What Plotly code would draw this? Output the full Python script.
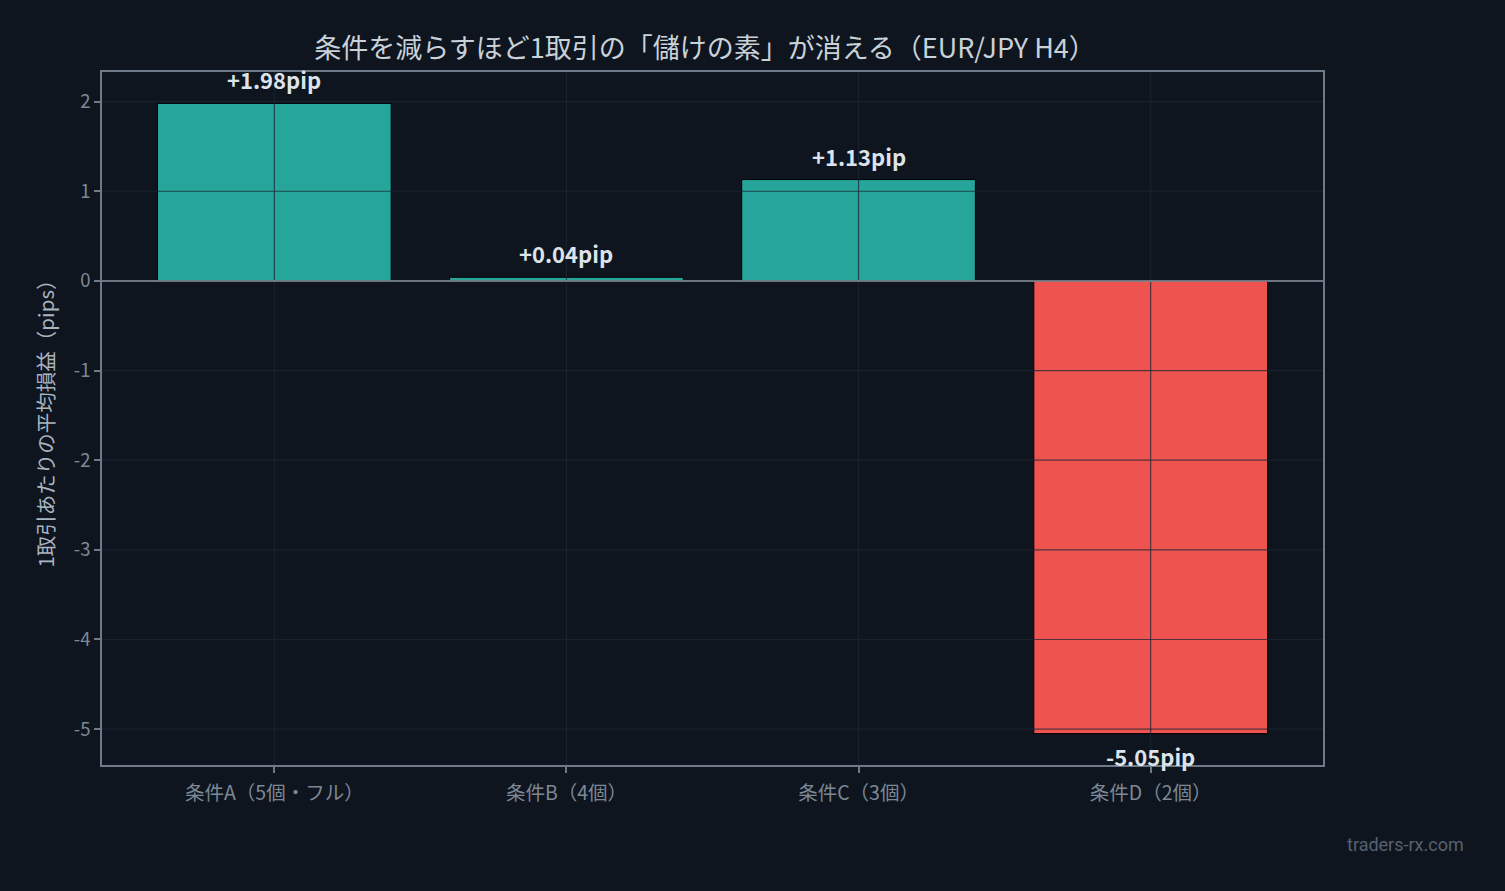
import plotly.graph_objects as go

categories = ["条件A（5個・フル）", "条件B（4個）", "条件C（3個）", "条件D（2個）"]
values = [1.98, 0.04, 1.13, -5.05]
value_labels = ["+1.98pip", "+0.04pip", "+1.13pip", "-5.05pip"]
ytick_vals = [-5, -4, -3, -2, -1, 0, 1, 2]
ytick_text = ["-5", "-4", "-3", "-2", "-1", "0", "1", "2"]

BG = "#0e151f"
POS = "#26a69a"
NEG = "#ef5350"
FONT = "Noto Sans CJK JP"

colors = [POS if v >= 0 else NEG for v in values]

fig = go.Figure()
fig.add_trace(go.Bar(
    x=categories, y=values, width=0.8,
    marker=dict(color=colors, line=dict(color="#000000", width=1)),
    hoverinfo="skip",
))

shapes = []
grid_color = "rgba(28,38,52,0.75)"
for v in ytick_vals:
    if v == 0:
        continue
    shapes.append(dict(type="line", xref="paper", yref="y", x0=0, x1=1, y0=v, y1=v,
                       line=dict(color=grid_color, width=1.2), layer="above"))
for c in categories:
    shapes.append(dict(type="line", xref="x", yref="paper", x0=c, x1=c, y0=0, y1=1,
                       line=dict(color=grid_color, width=1.2), layer="above"))
shapes.append(dict(type="line", xref="paper", yref="y", x0=0, x1=1, y0=0, y1=0,
                   line=dict(color="#8b96a3", width=1.5), layer="above"))

annotations = []
for c, v, t in zip(categories, values, value_labels):
    annotations.append(dict(
        x=c, y=v, xref="x", yref="y", text=f"<b>{t}</b>", showarrow=False,
        yanchor="bottom" if v >= 0 else "top",
        yshift=6 if v >= 0 else -4,
        font=dict(family=FONT, size=22, color="#dde3ea"),
    ))
annotations.append(dict(
    x=1.117, y=-0.1154, xref="paper", yref="paper", text="traders-rx.com",
    showarrow=False, xanchor="right", yanchor="middle",
    font=dict(family="Roboto", size=18, color="#56616f"),
))

axis_common = dict(
    showline=True, mirror=True, linecolor="#6e7a87", linewidth=1.5,
    ticks="outside", ticklen=6, tickwidth=1.5, tickcolor="#6e7a87",
    showgrid=False, zeroline=False,
)

fig.update_layout(
    width=1505, height=891,
    paper_bgcolor=BG, plot_bgcolor=BG,
    margin=dict(l=102, r=182, t=72, b=126),
    showlegend=False,
    title=dict(text="条件を減らすほど1取引の「儲けの素」が消える（EUR/JPY H4）",
               x=705 / 1505, xanchor="center", y=1 - 49 / 891, yanchor="middle",
               font=dict(family=FONT, size=27, color="#c9d1d9")),
    xaxis=dict(range=[-0.59, 3.59],
               tickfont=dict(family=FONT, size=19.5, color="#7d8895"),
               ticklabelstandoff=4,
               **axis_common),
    yaxis=dict(range=[-5.40, 2.33], tickvals=ytick_vals, ticktext=ytick_text,
               tickfont=dict(family=FONT, size=18.5, color="#7d8895"),
               title=dict(text="1取引あたりの平均損益（pips）", standoff=14,
                          font=dict(family=FONT, size=20.5, color="#aab4bf")),
               **axis_common),
    shapes=shapes,
    annotations=annotations,
)

fig.write_html("out.html", config={"displayModeBar": False},
               post_script="document.body.style.margin='0';document.body.style.background='#0e151f';")
